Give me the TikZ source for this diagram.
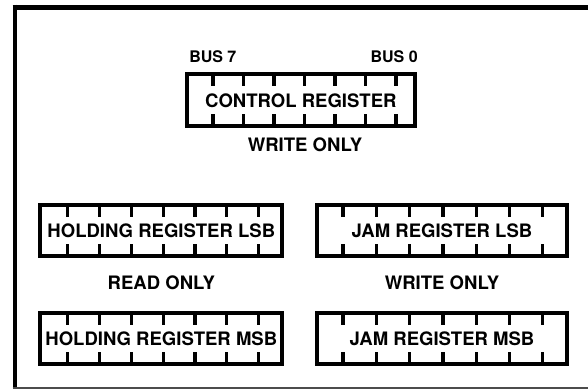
\documentclass[tikz,border=0pt]{standalone}
\usepackage{fontspec}
\setmainfont{TeX Gyre Heros}
\usetikzlibrary{calc}
\tikzset{
  regbox/.style={draw, line width=3pt, outer sep=0pt, inner sep=0pt,
    font=\fontsize{13.9pt}{16pt}\selectfont\bfseries},
  lsbbox/.style={regbox, minimum width=181.5pt, minimum height=38.25pt},
  ctrlbox/.style={regbox, minimum width=170.8pt, minimum height=39pt},
  jambox/.style={regbox, minimum width=187.5pt, minimum height=38.25pt},
  regtick/.style={line width=2.4pt},
  lbl/.style={inner sep=0pt, font=\fontsize{13.9pt}{16pt}\selectfont\bfseries},
  buslbl/.style={inner sep=0pt, font=\fontsize{12pt}{14pt}\selectfont\bfseries},
  frame/.style={line width=3pt}
}
\newcommand{\regticks}[3]{%
  \foreach \i in {0,...,6} {
    \draw[regtick] ($(#1.north west)+({#2+\i*#3},0)$) -- ++(0,12);
    \draw[regtick] ($(#1.south west)+({#2+\i*#3},0)$) -- ++(0,-12);
  }}
\begin{document}
\begin{tikzpicture}[x=0.75pt,y=-0.75pt]
\useasboundingbox (0,0) rectangle (588,390);
% outer frame
\draw[frame] (14.5,4.5) -- (14.5,388);
\draw[line width=3.75pt] (12.5,7) -- (588,7);
\draw[line width=0.8pt, black!70] (12.5,388) -- (588,388);
% registers
\node[ctrlbox] (ctrl) at (300.85,100.3) {CONTROL REGISTER};
\node[lsbbox] (hlsb) at (161.3,230.8) {HOLDING REGISTER LSB};
\node[jambox] (jlsb) at (442,230.8) {JAM REGISTER LSB};
\node[lsbbox] (hmsb) at (161.3,338.5) {HOLDING REGISTER MSB};
\node[jambox] (jmsb) at (442,338.5) {JAM REGISTER MSB};
\regticks{ctrl}{26}{30.5}
\regticks{hlsb}{27.4}{31.8}
\regticks{jlsb}{26}{33.3}
\regticks{hmsb}{27.4}{31.8}
\regticks{jmsb}{26}{33.3}
% labels
\node[buslbl, anchor=west] (bus7) at (189,57) {BUS 7};
\node[buslbl, anchor=east] (bus0) at (418,57) {BUS 0};
\node[lbl] (wo1) at (305,145) {WRITE ONLY};
\node[lbl] (ro) at (161.3,283) {READ ONLY};
\node[lbl] (wo2) at (442,283) {WRITE ONLY};
\end{tikzpicture}
\end{document}
